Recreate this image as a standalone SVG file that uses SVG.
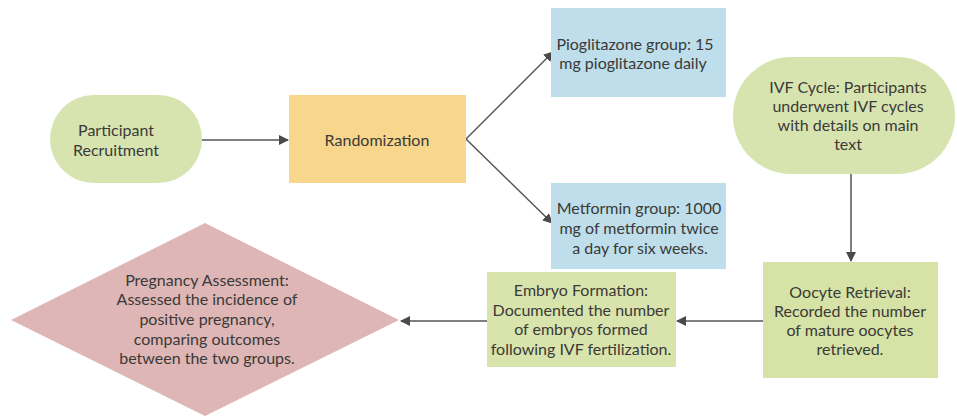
<svg xmlns="http://www.w3.org/2000/svg" width="957" height="416" viewBox="0 0 957 416">
<defs>
<style>
text{font-family:Lato,"Open Sans","Liberation Sans",sans-serif;font-size:16px;fill:#3a3a38;text-anchor:middle}
.c{stroke:#555;stroke-width:1.5;fill:none}
.g{fill:#d8e4b0}
.b{fill:#bddeea}
</style>
<marker id="ah" viewBox="0 0 10 10" refX="9" refY="5" markerWidth="10" markerHeight="10" markerUnits="userSpaceOnUse" orient="auto">
<path d="M0,0 L10,5 L0,10 z" fill="#4a4a4a"/>
</marker>
</defs>
<rect width="957" height="416" fill="#fff"/>
<g id="connectors">
<line class="c" x1="202" y1="140" x2="288" y2="140" marker-end="url(#ah)"/>
<line class="c" x1="466" y1="139" x2="553" y2="52" marker-end="url(#ah)"/>
<line class="c" x1="466" y1="139" x2="552" y2="223" marker-end="url(#ah)"/>
<line class="c" x1="851" y1="174" x2="851" y2="261" marker-end="url(#ah)"/>
<line class="c" x1="763" y1="321" x2="677" y2="321" marker-end="url(#ah)"/>
<line class="c" x1="487" y1="321" x2="401" y2="321" marker-end="url(#ah)"/>
</g>
<g id="recruitment">
<rect class="g" x="50" y="95" width="152" height="88" rx="44"/>
<text x="116" y="136">Participant</text>
<text x="116" y="156">Recruitment</text>
</g>
<g id="randomization">
<rect x="289" y="95" width="177" height="88" fill="#f8d68b"/>
<text x="377" y="146">Randomization</text>
</g>
<g id="pioglitazone">
<rect class="b" x="551" y="8" width="175" height="89"/>
<text x="635" y="50">Pioglitazone group: 15</text>
<text x="633" y="69">mg pioglitazone daily</text>
</g>
<g id="metformin">
<rect class="b" x="551" y="183" width="175" height="86"/>
<text x="639" y="214">Metformin group: 1000</text>
<text x="639" y="234">mg of metformin twice</text>
<text x="640" y="254">a day for six weeks.</text>
</g>
<g id="ivf">
<rect class="g" x="733" y="57" width="222" height="117" rx="58"/>
<text x="848" y="93">IVF Cycle: Participants</text>
<text x="848" y="112">underwent IVF cycles</text>
<text x="848" y="131">with details on main</text>
<text x="848" y="150">text</text>
</g>
<g id="oocyte">
<rect x="763" y="262" width="175" height="116" fill="#d6e2a6"/>
<text x="850" y="298">Oocyte Retrieval:</text>
<text x="850" y="317">Recorded the number</text>
<text x="850" y="336">of mature oocytes</text>
<text x="850" y="355">retrieved.</text>
</g>
<g id="embryo">
<rect x="487" y="272" width="189" height="95" fill="#d9e4ac"/>
<text x="581" y="296">Embryo Formation:</text>
<text x="581" y="316">Documented the number</text>
<text x="581" y="335">of embryos formed</text>
<text x="581" y="355">following IVF fertilization.</text>
</g>
<g id="pregnancy">
<polygon points="11,320 205,223 399,320 205,416" fill="#deb6b6"/>
<text x="207" y="286">Pregnancy Assessment:</text>
<text x="207" y="305">Assessed the incidence of</text>
<text x="207" y="325">positive pregnancy,</text>
<text x="207" y="345">comparing outcomes</text>
<text x="207" y="364">between the two groups.</text>
</g>
</svg>
